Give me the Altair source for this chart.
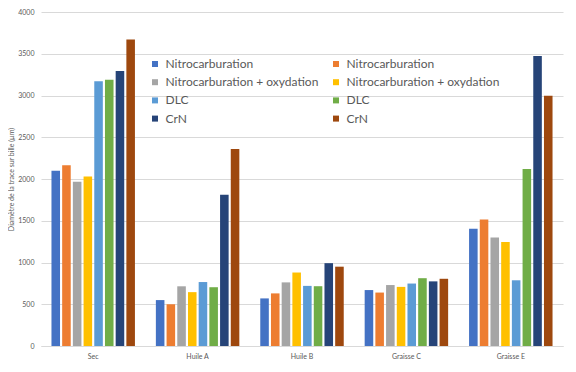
import altair as alt
import pandas as pd

categories = ["Sec", "Huile A", "Huile B", "Graisse C", "Graisse E"]
series_keys = ["s1", "s2", "s3", "s4", "s5", "s6", "s7", "s8"]
series_labels = ["Nitrocarburation", "Nitrocarburation",
                 "Nitrocarburation + oxydation", "Nitrocarburation + oxydation",
                 "DLC", "DLC", "CrN", "CrN"]
colors = ["#4472C4", "#ED7D31", "#A5A5A5", "#FFC000",
          "#5B9BD5", "#70AD47", "#264478", "#9E480E"]

values = {
    "s1": [2100, 550, 570, 670, 1405],
    "s2": [2165, 500, 630, 640, 1515],
    "s3": [1968, 715, 762, 730, 1300],
    "s4": [2030, 645, 880, 708, 1245],
    "s5": [3172, 766, 720, 748, 787],
    "s6": [3190, 704, 716, 812, 2120],
    "s7": [3292, 1810, 992, 774, 3473],
    "s8": [3672, 2360, 950, 805, 2998],
}

rows = []
for k in series_keys:
    for c, v in zip(categories, values[k]):
        rows.append({"cat": c, "series": k, "value": v})
df = pd.DataFrame(rows)

label_expr = "{" + ",".join(f"'{k}':'{l}'" for k, l in zip(series_keys, series_labels)) + "}[datum.value]"

# legend fills column-first: put odd series in column 1, even in column 2
legend_order = series_keys[0::2] + series_keys[1::2]
legend_colors = [colors[series_keys.index(k)] for k in legend_order]

chart = alt.Chart(df).mark_bar().encode(
    x=alt.X("cat:N", sort=categories,
            scale=alt.Scale(paddingInner=0.18, paddingOuter=0.09),
            axis=alt.Axis(title=None, labelAngle=0, ticks=False, labelFontSize=7,
                          labelColor="#595959", labelPadding=6, domainColor="#d9d9d9",
                          labelFont="Lato")),
    xOffset=alt.XOffset("series:N", sort=series_keys,
                        scale=alt.Scale(paddingInner=0.2, paddingOuter=0.1)),
    y=alt.Y("value:Q", scale=alt.Scale(domain=[0, 4000], nice=False),
            axis=alt.Axis(title="Diamètre de la trace sur bille (µm)", values=list(range(0, 4001, 500)),
                          format="d",
                          titleFontSize=7, titleFontWeight="normal", titleColor="#595959",
                          titleFont="Lato", titlePadding=3,
                          labelFontSize=7, labelColor="#595959", labelFont="Lato",
                          labelPadding=7, ticks=False, domain=False,
                          gridColor="#d9d9d9")),
    color=alt.Color("series:N",
                    scale=alt.Scale(domain=legend_order, range=legend_colors),
                    legend=alt.Legend(title=None, orient="none", legendX=108, legendY=46,
                                      columns=2, symbolType="square", symbolSize=36,
                                      symbolStrokeWidth=0, labelExpr=label_expr,
                                      labelFontSize=12, labelFont="Lato", labelColor="#595959",
                                      rowPadding=6.2, columnPadding=11, labelOffset=4.5,
                                      labelLimit=300)),
).properties(
    width=522, height=334,
    autosize=alt.AutoSizeParams(type="none"),
    padding={"left": 33, "top": 4, "right": 5, "bottom": 16},
).configure_view(stroke=None)

chart.save("out.html", embed_options={"renderer": "svg", "actions": False})
